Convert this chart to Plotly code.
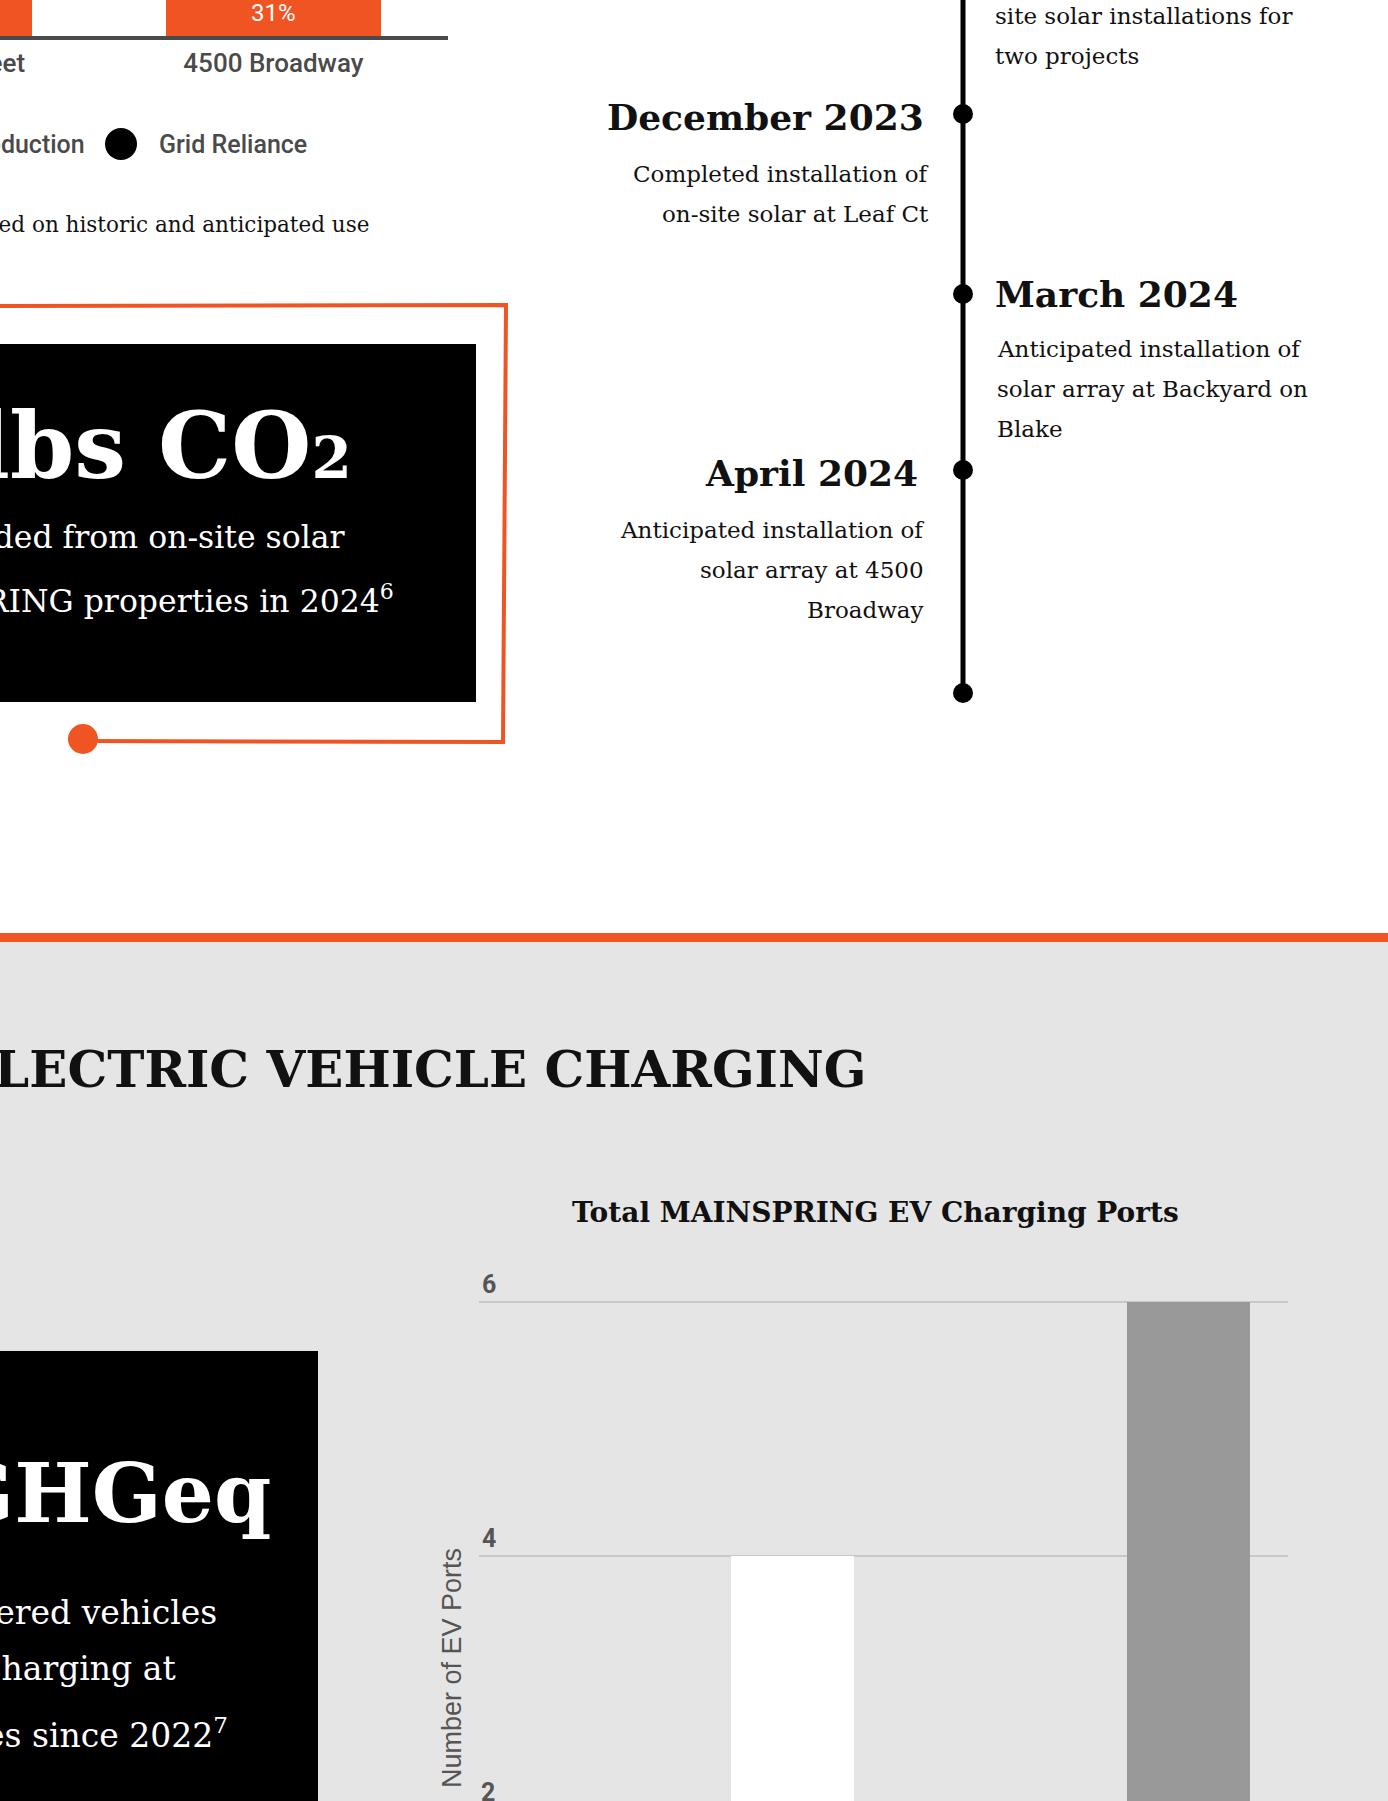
import plotly.graph_objects as go

W, H = 1388, 1801
ORANGE = "#F05423"
INK = "#111111"
LABEL_GREY = "#4a4a4a"
AXIS_GREY = "#555555"
SERIF = "DejaVu Serif"
SANS = "Roboto"

# ---------------- data ----------------
solar_sites = ["2440 Pearl Street", "4500 Broadway"]
solar_production_pct = [42, 31]
grid_reliance_pct = [58, 69]
solar_legend = ["Solar Production", "Grid Reliance"]

ev_years = ["2023", "2024"]
ev_ports = [4, 6]
ev_colors = ["#FFFFFF", "#999999"]
ev_ticks = [2, 4, 6]

timeline_dates = ["December 2023", "March 2024", "April 2024"]
timeline_notes = [
    ["Completed installation of", "on-site solar at Leaf Ct"],
    ["Anticipated installation of", "solar array at Backyard on", "Blake"],
    ["Anticipated installation of", "solar array at 4500", "Broadway"],
]
timeline_prev_note = ["site solar installations for", "two projects"]


def px(x):
    return x / W


def py(y):
    return 1 - y / H


fig = go.Figure()

# top-left stacked bar (solar production vs grid reliance)
fig.add_trace(go.Bar(x=solar_sites, y=solar_production_pct, name=solar_legend[0],
                     marker=dict(color=ORANGE, line=dict(width=0)), width=0.616,
                     xaxis="x3", yaxis="y3", showlegend=False, hoverinfo="skip"))
fig.add_trace(go.Bar(x=solar_sites, y=grid_reliance_pct, name=solar_legend[1],
                     marker=dict(color="#000000", line=dict(width=0)), width=0.616,
                     xaxis="x3", yaxis="y3", showlegend=False, hoverinfo="skip"))

# EV charging ports bar chart
fig.add_trace(go.Bar(x=ev_years, y=ev_ports, marker=dict(color=ev_colors, line=dict(width=0)),
                     width=0.31, xaxis="x2", yaxis="y2", showlegend=False, hoverinfo="skip"))

# EV axis geometry (pixels)
ev_dom_top_px = 1270
ev_val_top, ev_val_bot = 6.252, 2.071
ev_x_range = [-0.792, 1.251]

# solar axis geometry (pixels)
solar_x_range = [0.217, 1.5]
solar_x_px = 448

shapes = []
# black stat box 1
shapes.append(dict(type="rect", xref="paper", yref="paper", x0=px(-10), x1=px(476), y0=py(702), y1=py(344),
                   fillcolor="#000000", line=dict(width=0), layer="below"))
# orange frame
frame_path = (f"M {px(-10)} {py(306)} L {px(506)} {py(305)} L {px(503)} {py(742)} L {px(83)} {py(741)}")
shapes.append(dict(type="path", xref="paper", yref="paper", path=frame_path,
                   line=dict(color=ORANGE, width=4), layer="above"))
shapes.append(dict(type="circle", xref="paper", yref="paper", x0=px(68), x1=px(98), y0=py(754), y1=py(724),
                   fillcolor=ORANGE, line=dict(width=0), layer="above"))
# legend dot
shapes.append(dict(type="circle", xref="paper", yref="paper", x0=px(105), x1=px(137), y0=py(160), y1=py(128),
                   fillcolor="#000000", line=dict(width=0), layer="above"))
# timeline
shapes.append(dict(type="line", xref="paper", yref="paper", x0=px(963), x1=px(963), y0=py(-5), y1=py(693),
                   line=dict(color="#000000", width=5), layer="above"))
for cy in [114, 294, 470, 693]:
    shapes.append(dict(type="circle", xref="paper", yref="paper", x0=px(953), x1=px(973), y0=py(cy + 10),
                       y1=py(cy - 10), fillcolor="#000000", line=dict(width=0), layer="above"))
# orange band + grey section
shapes.append(dict(type="rect", xref="paper", yref="paper", x0=0, x1=1, y0=py(942), y1=py(933),
                   fillcolor=ORANGE, line=dict(width=0), layer="below"))
shapes.append(dict(type="rect", xref="paper", yref="paper", x0=0, x1=1, y0=py(1810), y1=py(942),
                   fillcolor="#E5E5E5", line=dict(width=0), layer="below"))
# black stat box 2
shapes.append(dict(type="rect", xref="paper", yref="paper", x0=px(-10), x1=px(318), y0=py(1810), y1=py(1351),
                   fillcolor="#000000", line=dict(width=0), layer="below"))

ann = []


def text(x, y, s, size, color=INK, family=SERIF, weight=400, xanchor="left", yanchor="middle", **kw):
    ann.append(dict(xref="paper", yref="paper", x=px(x), y=py(y), text=s, showarrow=False,
                    xanchor=xanchor, yanchor=yanchor,
                    font=dict(family=family, size=size, color=color, weight=weight), **kw))


# top chart value label
ann.append(dict(xref="x3", yref="y3", x=solar_sites[1], y=6.4, text=f"{solar_production_pct[1]}%",
                showarrow=False, font=dict(family=SANS, size=24, color="#FFFFFF", weight=400)))
# first category label sits left of the visible axis range: place it from the x3 scale
site0_px = (0 - solar_x_range[0]) / (solar_x_range[1] - solar_x_range[0]) * solar_x_px
text(site0_px, 63, solar_sites[0], 26, LABEL_GREY, SANS, 500, xanchor="center")
# legend
text(87, 144, solar_legend[0], 25, LABEL_GREY, SANS, 500, xanchor="right")
text(157, 144, solar_legend[1], 25, LABEL_GREY, SANS, 500, xanchor="left")
# footnote
text(371, 224, "based on historic and anticipated use", 21.5, INK, SERIF, 400, xanchor="right")

# stat box 1
text(354, 446, "lbs CO<span style='font-size:58px'>2</span>", 92, "#FFFFFF", SERIF, 700, xanchor="right")
text(348, 537, "avoided from on-site solar", 31.5, "#FFFFFF", SERIF, 400, xanchor="right")
text(396, 599, "MAINSPRING properties in 2024<sup>6</sup>", 31.5, "#FFFFFF", SERIF, 400, xanchor="right")

# timeline
text(993, 16, timeline_prev_note[0], 23, INK)
text(993, 56, timeline_prev_note[1], 23, INK)
text(926, 117, timeline_dates[0], 36, INK, SERIF, 700, xanchor="right")
for i, line in enumerate(timeline_notes[0]):
    text(931, 174 + 40 * i, line, 23, INK, xanchor="right")
text(993, 294, timeline_dates[1], 36, INK, SERIF, 700, xanchor="left")
for i, line in enumerate(timeline_notes[1]):
    text(995, 349 + 40 * i, line, 23, INK, xanchor="left")
text(920, 473, timeline_dates[2], 36, INK, SERIF, 700, xanchor="right")
for i, line in enumerate(timeline_notes[2]):
    text(926, 530 + 40 * i, line, 23, INK, xanchor="right")

# EV section
text(868, 1069, "ELECTRIC VEHICLE CHARGING", 50, INK, SERIF, 700, xanchor="right")
text(875, 1212, "Total MAINSPRING EV Charging Ports", 28, INK, SERIF, 700, xanchor="center")
text(273, 1493, "lbs GHGeq", 82, "#FFFFFF", SERIF, 700, xanchor="right")
text(219, 1612, "powered vehicles", 33, "#FFFFFF", SERIF, 400, xanchor="right")
text(178, 1668, "charging at", 33, "#FFFFFF", SERIF, 400, xanchor="right")
text(230, 1733, "properties since 2022<sup>7</sup>", 33, "#FFFFFF", SERIF, 400, xanchor="right")
ann.append(dict(xref="paper", yref="paper", x=px(452), y=py(1668), text="Number of EV Ports", showarrow=False,
                textangle=-90, xanchor="center", yanchor="middle",
                font=dict(family="Liberation Sans", size=27, color=AXIS_GREY)))

# tick label "2" lies just beyond the visible plot area; place it from the y2 scale
ev_px_per_unit = (H - ev_dom_top_px) / (ev_val_top - ev_val_bot)
y_of_2 = ev_dom_top_px + (ev_val_top - ev_ticks[0]) * ev_px_per_unit
ann.append(dict(xref="paper", yref="paper", x=px(479), y=py(y_of_2 - 1), text=str(ev_ticks[0]), showarrow=False,
                xanchor="left", yanchor="bottom",
                font=dict(family=SANS, size=25, color=AXIS_GREY, weight=700)))

fig.update_layout(
    width=W, height=H, margin=dict(l=0, r=0, t=0, b=0),
    paper_bgcolor="#FFFFFF", plot_bgcolor="rgba(0,0,0,0)",
    barmode="stack", bargap=0, showlegend=False,
    shapes=shapes, annotations=ann,
    xaxis=dict(visible=False), yaxis=dict(visible=False),
    xaxis2=dict(domain=[px(479), px(1288)], range=ev_x_range, type="category", anchor="y2",
                visible=False, fixedrange=True),
    yaxis2=dict(domain=[0, py(ev_dom_top_px)], range=[ev_val_bot, ev_val_top], anchor="x2",
                tickvals=ev_ticks, showgrid=True, gridcolor="#C8C8C8", gridwidth=2,
                zeroline=False, showline=False, ticks="", ticklabelposition="inside top",
                tickfont=dict(family=SANS, size=25, color=AXIS_GREY, weight=700), fixedrange=True),
    xaxis3=dict(domain=[0, px(solar_x_px)], range=solar_x_range, type="category", anchor="y3",
                showline=True, linecolor=LABEL_GREY, linewidth=4, ticks="", showgrid=False,
                tickfont=dict(family=SANS, size=26, color=LABEL_GREY, weight=500), ticklabelstandoff=1,
                fixedrange=True),
    yaxis3=dict(domain=[py(36), 1], range=[0, 10], anchor="x3", visible=False, fixedrange=True),
)

fig.write_html("out.html", config={"displayModeBar": False},
               post_script="document.body.style.margin='0px';document.body.style.overflow='hidden';")
